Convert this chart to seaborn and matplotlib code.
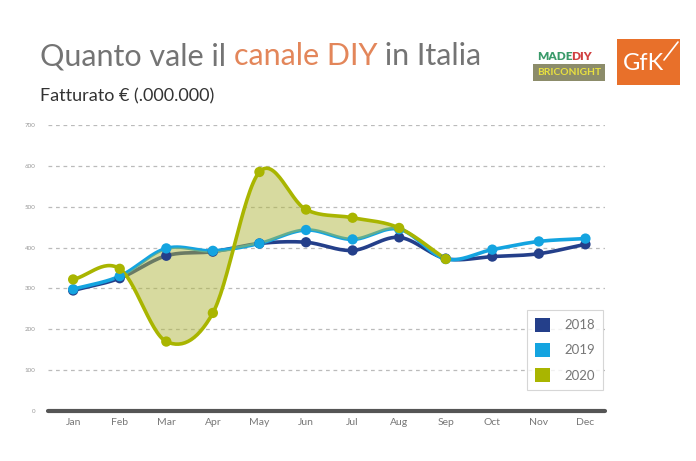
import numpy as np
import pandas as pd
import seaborn as sns
import matplotlib
matplotlib.use("Agg")
import matplotlib.pyplot as plt
from matplotlib.patches import Patch, Rectangle
from matplotlib.lines import Line2D

months = ["Jan", "Feb", "Mar", "Apr", "May", "Jun", "Jul", "Aug", "Sep", "Oct", "Nov", "Dec"]
v2018 = [295, 325, 380, 390, 410, 413, 393, 425, 373, 378, 385, 408]
v2019 = [298, 330, 398, 392, 410, 443, 420, 445, 372, 395, 415, 422]
v2020 = [322, 348, 170, 240, 585, 493, 473, 448, 372]
years = ["2018", "2019", "2020"]
colors = {"2018": "#243f8a", "2019": "#14a4e0", "2020": "#a9b500"}
yticks = [0, 100, 200, 300, 400, 500, 600, 700]

sns.set_theme(style="white")
plt.rcParams["font.family"] = ["Lato", "DejaVu Sans"]

rows = []
for y, vals in zip(years, [v2018, v2019, v2020]):
    for i, v in enumerate(vals):
        rows.append({"idx": i, "month": months[i], "year": y, "value": v})
df = pd.DataFrame(rows)


def smooth(vals, n=30):
    """Cardinal (Catmull-Rom) rendering of a series, for display only."""
    y = np.asarray(vals, float)
    m = len(y)
    t = np.zeros(m)
    for i in range(m):
        a = y[max(i - 1, 0)]
        b = y[min(i + 1, m - 1)]
        t[i] = (b - a) / (min(i + 1, m - 1) - max(i - 1, 0))
    xs, ys = [], []
    for i in range(m - 1):
        s = np.linspace(0, 1, n, endpoint=(i == m - 2))
        h00 = 2 * s**3 - 3 * s**2 + 1
        h10 = s**3 - 2 * s**2 + s
        h01 = -2 * s**3 + 3 * s**2
        h11 = s**3 - s**2
        xs.append(i + s)
        ys.append(h00 * y[i] + h10 * t[i] + h01 * y[i + 1] + h11 * t[i + 1])
    return np.concatenate(xs), np.concatenate(ys)


fig = plt.figure(figsize=(6.96, 4.61), dpi=100)
ax = fig.add_axes([48 / 696, 1 - 411 / 461, (605 - 48) / 696, (411 - 125) / 461])

curves = {}
for y, vals in zip(years, [v2018, v2019, v2020]):
    xs, ys = smooth(vals)
    curves[y] = (xs, ys)
    sns.lineplot(x=xs, y=ys, ax=ax, color=colors[y], lw=2.6, sort=False,
                 estimator=None, zorder=4 if y == "2020" else 2, legend=False)

# fill between 2020 and 2019 from Feb to Sep
x20, y20 = curves["2020"]
x19, y19 = curves["2019"]
mask20 = (x20 >= 1) & (x20 <= 8)
y19i = np.interp(x20[mask20], x19, y19)
ax.fill_between(x20[mask20], y20[mask20], y19i, color="#b0b640", alpha=0.5,
                lw=0, zorder=3)

sns.scatterplot(data=df, x="idx", y="value", hue="year", palette=colors, ax=ax,
                s=55, edgecolor="none", zorder=5, legend=False)

ax.set_xlim(-0.54, 11.42)
ax.set_ylim(0, 700)
ax.set_yticks(yticks)
ax.set_yticklabels([str(t) for t in yticks], fontsize=4.5, color="#999999")
ax.set_xticks(range(12))
ax.set_xticklabels(months, fontsize=7.5, color="#777777")
ax.tick_params(axis="both", length=0, pad=5)
ax.tick_params(axis="y", pad=9)
ax.set_xlabel("")
ax.set_ylabel("")
for t in yticks[1:]:
    ax.axhline(t, color="#bbbbbb", lw=0.9, ls=(0, (3, 3)), zorder=1)
for s in ["top", "right", "left"]:
    ax.spines[s].set_visible(False)
ax.spines["bottom"].set_color("#555555")
ax.spines["bottom"].set_linewidth(3)
ax.spines["bottom"].set_capstyle("round")

handles = [Patch(facecolor=colors[y], edgecolor="none", label=y) for y in years]
leg = ax.legend(handles=handles, loc="upper left",
                bbox_to_anchor=(527 / 696, 1 - 310 / 461), bbox_transform=fig.transFigure,
                frameon=True, fancybox=False, fontsize=9.5, handlelength=1.15,
                handleheight=1.25, labelspacing=0.85, borderpad=0.6, handletextpad=1.1,
                borderaxespad=0)
leg.get_frame().set_edgecolor("#cccccc")
leg.get_frame().set_linewidth(0.8)
for t in leg.get_texts():
    t.set_color("#777777")

# Title
base = 1 - 65 / 461
tA = fig.text(40 / 696, base, "Quanto vale il ", fontsize=22,
              color="#747474", ha="left", va="baseline")
fig.canvas.draw()
r = fig.canvas.get_renderer()
bb = tA.get_window_extent(r)
tB = fig.text(bb.x1 / 696, base, "canale DIY", fontsize=22,
              color="#e3865a", ha="left", va="baseline")
bb2 = tB.get_window_extent(r)
fig.text(bb2.x1 / 696, base, " in Italia", fontsize=22,
         color="#747474", ha="left", va="baseline")
fig.text(40 / 696, 1 - 101 / 461, "Fatturato € (.000.000)", fontsize=13,
         color="#333333", ha="left", va="baseline")

# Logos
fig.patches.append(Rectangle((533 / 696, 1 - 81 / 461), 72 / 696, 17 / 461,
                             transform=fig.transFigure, facecolor="#8c8c6a",
                             edgecolor="none"))
fig.text(569 / 696, 1 - 72.5 / 461, "BRICONIGHT", fontsize=7.4, fontweight="bold",
         color="#e8e040", ha="center", va="center")
fig.text(537 / 696, 1 - 56 / 461, "MADE", fontsize=8.5, fontweight="heavy",
         color="#3a9a6a", ha="left", va="center")
fig.text(571 / 696, 1 - 56 / 461, "DIY", fontsize=8.5, fontweight="heavy",
         color="#d04040", ha="left", va="center")
fig.patches.append(Rectangle((617 / 696, 1 - 85 / 461), 63 / 696, 46 / 461,
                             transform=fig.transFigure, facecolor="#e8702a",
                             edgecolor="none"))
fig.text(644 / 696, 1 - 64 / 461, "GfK", fontsize=17, color="white",
         ha="center", va="center")
fig.lines.append(Line2D([664 / 696, 678 / 696], [1 - 60 / 461, 1 - 42 / 461],
                        transform=fig.transFigure, color="white", lw=1.2))

fig.savefig("out.png", dpi=100)
